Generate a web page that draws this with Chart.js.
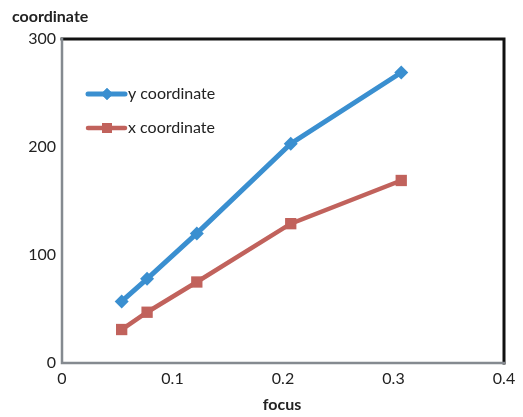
<!DOCTYPE html>
<html>
<head>
<meta charset="utf-8">
<script src="https://cdn.jsdelivr.net/npm/chart.js@4"></script>
<style>
  html, body { margin: 0; padding: 0; background: #fff; }
  #wrap { width: 523px; height: 417px; }
</style>
</head>
<body>
<div id="wrap"><canvas id="chart"></canvas></div>
<script>
// values
const focus = [0.054, 0.077, 0.122, 0.207, 0.307];
const yCoordinate = [57, 78, 120, 203, 269];
const xCoordinate = [31, 47, 75, 129, 169];
const xTicks = [0, 0.1, 0.2, 0.3, 0.4];
const yTicks = [0, 100, 200, 300];

const blue = '#3a8fd0';
const red = '#c1625c';
const font = 'Lato, "Open Sans", sans-serif';

Chart.defaults.font.family = font;
Chart.defaults.color = '#222';

function toPoints(xs, ys) {
  return xs.map((x, i) => ({ x: x, y: ys[i] }));
}

// frame, axis titles and the in-plot legend, drawn like the original
const decorations = {
  id: 'decorations',
  beforeDatasetsDraw: (chart) => {
    const { ctx, chartArea: { top, left, right, bottom } } = chart;
    ctx.save();
    ctx.lineCap = 'square';
    ctx.strokeStyle = '#111';
    ctx.lineWidth = 3;
    ctx.beginPath();
    ctx.moveTo(left, top);
    ctx.lineTo(right, top);
    ctx.lineTo(right, bottom);
    ctx.stroke();
    ctx.strokeStyle = '#858a90';
    ctx.lineWidth = 2.5;
    ctx.beginPath();
    ctx.moveTo(left, top);
    ctx.lineTo(left, bottom);
    ctx.lineTo(right, bottom);
    ctx.stroke();
    ctx.restore();
  },
  afterDraw: (chart) => {
    const { ctx } = chart;
    ctx.save();
    ctx.fillStyle = '#222';
    ctx.font = 'bold 16px ' + font;
    ctx.textBaseline = 'middle';
    ctx.textAlign = 'left';
    ctx.fillText('coordinate', 12, 17);
    ctx.textAlign = 'center';
    ctx.fillText('focus', 282, 405);

    // legend entries
    const entries = [
      { label: 'y coordinate', color: blue, style: 'rectRot', r: 6, w: 5, y: 94 },
      { label: 'x coordinate', color: red, style: 'rect', r: 7, w: 4.5, y: 128 }
    ];
    entries.forEach(e => {
      ctx.strokeStyle = e.color;
      ctx.lineWidth = e.w;
      ctx.lineCap = 'round';
      ctx.beginPath();
      ctx.moveTo(88, e.y);
      ctx.lineTo(125, e.y);
      ctx.stroke();
      ctx.fillStyle = e.color;
      Chart.helpers.drawPoint(ctx, { pointStyle: e.style, radius: e.r, borderWidth: 0 }, 107, e.y);
      ctx.fill();
      ctx.fillStyle = '#222';
      ctx.font = '16px ' + font;
      ctx.textAlign = 'left';
      ctx.fillText(e.label, 128, e.y);
    });
    ctx.restore();
  }
};

const chart = new Chart(document.getElementById('chart'), {
  type: 'line',
  data: {
    datasets: [{
      label: 'y coordinate',
      data: toPoints(focus, yCoordinate),
      borderColor: blue,
      backgroundColor: blue,
      borderWidth: 5,
      pointStyle: 'rectRot',
      pointRadius: 7,
      pointBorderWidth: 0,
      pointBackgroundColor: blue
    }, {
      label: 'x coordinate',
      data: toPoints(focus, xCoordinate),
      borderColor: red,
      backgroundColor: red,
      borderWidth: 4.5,
      pointStyle: 'rect',
      pointRadius: 8,
      pointBorderWidth: 0,
      pointBackgroundColor: red
    }]
  },
  options: {
    responsive: true,
    maintainAspectRatio: false,
    animation: false,
    layout: { padding: { top: 39, right: 19, left: 0, bottom: 0 } },
    plugins: {
      legend: { display: false },
      tooltip: { enabled: false }
    },
    scales: {
      x: {
        type: 'linear',
        min: 0,
        max: 0.4,
        afterFit: (scale) => { scale.height = 54; },
        afterBuildTicks: (scale) => { scale.ticks = xTicks.map(v => ({ value: v })); },
        grid: { display: false, drawTicks: false },
        border: { display: false },
        ticks: {
          padding: 6,
          font: { size: 16 },
          color: '#222',
          maxRotation: 0,
          callback: (v) => String(v)
        }
      },
      y: {
        min: 0,
        max: 300,
        afterFit: (scale) => { scale.width = 62; },
        afterBuildTicks: (scale) => { scale.ticks = yTicks.map(v => ({ value: v })); },
        grid: { display: false, drawTicks: false },
        border: { display: false },
        ticks: {
          padding: 6,
          font: { size: 16 },
          color: '#222'
        }
      }
    }
  },
  plugins: [decorations]
});
</script>
</body>
</html>
